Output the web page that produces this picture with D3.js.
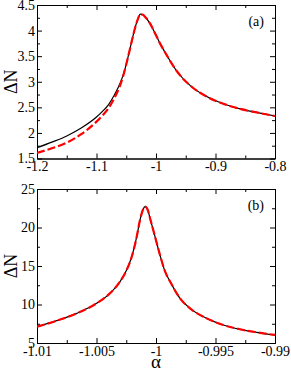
<!DOCTYPE html>
<html><head><meta charset="utf-8">
<script src="https://cdn.jsdelivr.net/npm/d3@7"></script>
<style>body{margin:0;background:#fff}svg{display:block}text{font-family:"Liberation Serif","Times New Roman",serif}</style>
</head><body>
<script>
// Panel (a)
const alphaA = [-1.2,-1.175,-1.15,-1.125,-1.1,-1.09,-1.08,-1.07,-1.06,-1.055,-1.05,-1.045,-1.04,-1.035,-1.03,-1.0265,-1.022,-1.0185,-1.0101,-1.0017,-0.9933,-0.982,-0.9652,-0.9429,-0.9148,-0.8869,-0.8588,-0.8308,-0.8];
const blackA = [1.71,1.82,1.94,2.10,2.31,2.42,2.55,2.74,2.98,3.14,3.34,3.58,3.83,4.06,4.24,4.32,4.31,4.27,4.14,3.95,3.75,3.52,3.21,2.93,2.71,2.57,2.47,2.40,2.33];
const redA   = [1.61,1.70,1.81,1.98,2.22,2.34,2.48,2.68,2.94,3.12,3.34,3.58,3.83,4.06,4.24,4.32,4.31,4.27,4.14,3.95,3.75,3.52,3.21,2.93,2.71,2.57,2.47,2.40,2.33];
const xTicksA = [-1.2,-1.1,-1,-0.9,-0.8];
const yTicksA = [1.5,2,2.5,3,3.5,4,4.5];
// Panel (b)
const alphaB = [-1.01,-1.00834,-1.00666,-1.00499,-1.00387,-1.00303,-1.00246,-1.00204,-1.00162,-1.00134,-1.0011,-1.00092,-1.0007,-1.0005,-1.00008,-0.99966,-0.99924,-0.99882,-0.99798,-0.99714,-0.99574,-0.99434,-0.99294,-0.99154,-0.99];
const blackB = [7.12,7.9,8.85,10.15,11.45,12.96,14.5,16.2,18.8,21.0,22.3,22.7,22.3,21.2,18.8,16.4,14.3,13.0,10.8,9.5,8.2,7.34,6.78,6.39,6.04];
const redB   = [7.12,7.9,8.85,10.15,11.45,12.96,14.5,16.2,18.8,21.0,22.3,22.7,22.3,21.2,18.8,16.4,14.3,13.0,10.8,9.5,8.2,7.34,6.78,6.39,6.04];
const xTicksB = [-1.01,-1.005,-1,-0.995,-0.99];
const yTicksB = [5,10,15,20,25];

const W=291,H=371;
const svg=d3.select("body").append("svg").attr("width",W).attr("height",H);
const font='"Liberation Serif","Times New Roman",serif';

function panel(opt){
  const {top,bottom,xdom,ydom,xt,yt,alpha,black,red,label,dash,cid}=opt;
  const left=37,right=275;
  const x=d3.scaleLinear().domain(xdom).range([left,right]);
  const y=d3.scaleLinear().domain(ydom).range([bottom,top]);
  const g=svg.append("g");
  svg.append("clipPath").attr("id",cid).append("rect").attr("x",left).attr("y",top).attr("width",right-left).attr("height",bottom-top);
  const minorX=xt.slice(0,-1).map((v,i)=>(v+xt[i+1])/2);
  const minorY=yt.slice(0,-1).map((v,i)=>(v+yt[i+1])/2);
  const ax=[
    {a:d3.axisBottom(x).tickValues(xt).tickFormat(d=>String(d)),t:`translate(0,${bottom})`,s:-5,p:3},
    {a:d3.axisTop(x).tickValues(xt).tickFormat(""),t:`translate(0,${top})`,s:-5,p:0},
    {a:d3.axisLeft(y).tickValues(yt).tickFormat(d=>String(d)),t:`translate(${left},0)`,s:-5,p:2},
    {a:d3.axisRight(y).tickValues(yt).tickFormat(""),t:`translate(${right},0)`,s:-5,p:0},
    {a:d3.axisBottom(x).tickValues(minorX).tickFormat(""),t:`translate(0,${bottom})`,s:-3,p:0},
    {a:d3.axisTop(x).tickValues(minorX).tickFormat(""),t:`translate(0,${top})`,s:-3,p:0},
    {a:d3.axisLeft(y).tickValues(minorY).tickFormat(""),t:`translate(${left},0)`,s:-3,p:0},
    {a:d3.axisRight(y).tickValues(minorY).tickFormat(""),t:`translate(${right},0)`,s:-3,p:0}
  ];
  ax.forEach(o=>{
    const gg=g.append("g").attr("transform",o.t).call(o.a.tickSizeInner(o.s).tickSizeOuter(0).tickPadding(o.p));
    gg.attr("font-family",null).attr("font-size",null);
    gg.select(".domain").attr("stroke","#000").attr("stroke-width",1);
    gg.selectAll(".tick line").attr("stroke","#000").attr("stroke-width",1);
    gg.selectAll("text").style("font-family",font).style("font-size","14px").attr("fill","#000");
  });
  const line=d3.line().x((d,i)=>x(alpha[i])).y(d=>y(d)).curve(d3.curveMonotoneX);
  const cg=g.append("g").attr("clip-path",`url(#${cid})`);
  cg.append("path").attr("d",line(black)).attr("fill","none").attr("stroke","#000").attr("stroke-width",1.2);
  cg.append("path").attr("d",line(red)).attr("fill","none").attr("stroke","#f00").attr("stroke-width",2.2).attr("stroke-dasharray",dash);
  g.append("text").attr("x",264).attr("y",top+20.5).attr("text-anchor","end").style("font-family",font).style("font-size","14px").text(label);
  g.append("text").attr("transform",`translate(16.5,${(top+bottom)/2}) rotate(-90)`).attr("text-anchor","middle")
    .style("font-family",font).style("font-size","18px").text("ΔN");
}
panel({top:5,bottom:158.5,xdom:[-1.2,-0.8],ydom:[1.5,4.5],xt:xTicksA,yt:yTicksA,
  alpha:alphaA,black:blackA,red:redA,label:"(a)",dash:"8,3",cid:"clipA"});
panel({top:189,bottom:343,xdom:[-1.01,-0.99],ydom:[5,25],xt:xTicksB,yt:yTicksB,
  alpha:alphaB,black:blackB,red:redB,label:"(b)",dash:"8,3",cid:"clipB"});
svg.append("text").attr("x",156).attr("y",368).attr("text-anchor","middle").style("font-family",font).style("font-size","19px").text("α");
</script>
</body></html>
